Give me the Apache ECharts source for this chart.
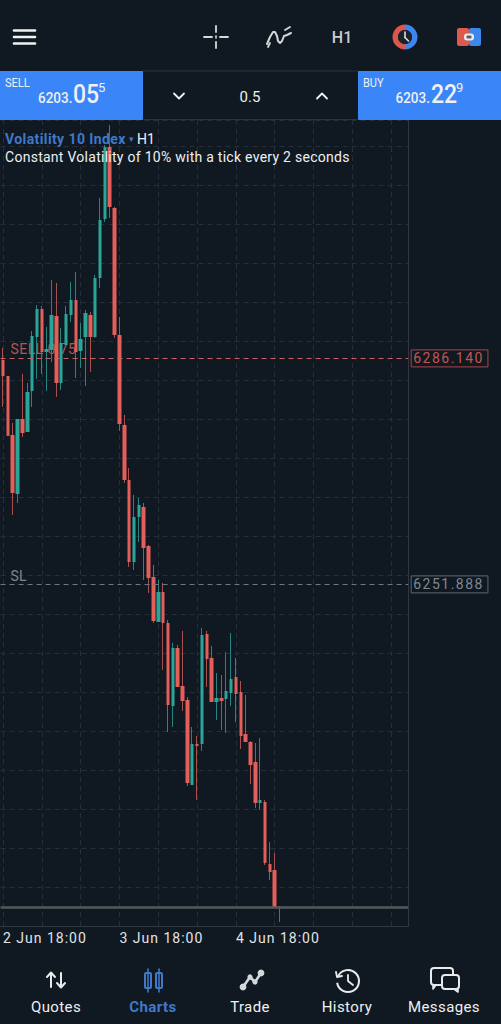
<!DOCTYPE html>
<html><head><meta charset="utf-8">
<style>html,body{margin:0;padding:0;background:#101821;}#c{width:501px;height:1024px;}</style>
<script src="https://cdn.jsdelivr.net/npm/echarts@6/dist/echarts.min.js"></script>
</head><body><div id="c"></div>
<script>
// Values
const dateTicks = ['2 Jun 18:00','3 Jun 18:00','4 Jun 18:00'];
const opens  = [6285.91,6283.48,6274.54,6265.60,6276.96,6275.00,6281.21,6289.39,6293.64,6287.12,6287.42,6292.58,6282.42,6288.18,6292.73,6295.00,6287.27,6289.39,6292.73,6289.39,6298.33,6307.28,6318.19,6308.95,6289.70,6276.06,6267.72,6255.29,6262.11,6263.63,6257.72,6253.02,6246.20,6250.74,6246.05,6233.46,6242.26,6236.50,6234.37,6221.49,6227.70,6227.70,6244.38,6240.74,6234.07,6234.68,6234.53,6235.44,6237.86,6235.59,6229.22,6228.00,6224.97,6218.76,6218.91,6209.52,6208.61,6202.85];
const closes = [6283.48,6274.39,6265.75,6276.96,6274.84,6281.06,6289.55,6293.64,6287.12,6287.57,6292.73,6282.42,6288.48,6292.88,6295.00,6287.12,6289.09,6293.03,6289.39,6298.33,6307.13,6318.19,6309.10,6289.70,6276.21,6267.72,6255.29,6262.11,6263.93,6257.41,6252.87,6246.35,6250.74,6246.05,6233.62,6242.26,6236.35,6234.22,6221.79,6227.70,6227.39,6244.23,6240.59,6234.07,6234.68,6234.22,6235.74,6237.56,6235.28,6228.91,6228.00,6224.52,6218.76,6219.22,6209.67,6208.30,6203.00,6203.05];
const lows   = [6278.78,6274.39,6262.41,6264.23,6274.24,6275.00,6278.78,6283.03,6283.79,6281.21,6285.60,6280.30,6281.36,6288.18,6291.67,6283.18,6284.69,6281.97,6284.09,6289.24,6296.82,6306.82,6307.43,6289.24,6275.15,6267.26,6254.53,6254.08,6258.32,6252.56,6250.59,6246.05,6246.20,6238.92,6229.52,6230.28,6236.35,6232.70,6221.33,6221.49,6219.22,6226.64,6236.35,6234.07,6231.34,6229.82,6229.37,6233.46,6231.03,6226.94,6228.00,6221.64,6218.00,6217.70,6209.36,6207.09,6202.85,6200.73];
const highs  = [6287.73,6283.48,6276.36,6276.96,6283.79,6282.42,6290.30,6294.24,6294.09,6290.91,6298.03,6297.58,6290.76,6294.09,6297.73,6299.24,6291.51,6293.48,6293.18,6298.79,6310.46,6318.49,6321.52,6309.10,6292.42,6277.57,6269.54,6265.45,6264.99,6264.23,6257.87,6254.83,6252.56,6252.11,6246.50,6243.02,6242.71,6244.84,6234.83,6230.28,6228.91,6245.29,6244.84,6242.56,6238.47,6238.16,6241.65,6244.53,6240.74,6237.25,6235.13,6228.15,6227.85,6228.61,6219.22,6212.85,6211.18,6203.15];
const stopLevel = 6286.140;
const slLevel = 6251.888;
const currentLine = 6202.90;

const axisMin = 6200.1145, axisMax = 6322.27, axisStep = 5.9105;
const BG='#101821', BLUE='#3A86F8', LINKBLUE='#3F79C8', RED='#E55F5A', GREEN='#2BA598', WHITE='#EEF0F2';
const SLOTS = 84;
const categories = Array.from({length:SLOTS},(_,i)=> i%24===0 && dateTicks[i/24] ? dateTicks[i/24] : '');
const candles = opens.map((o,i)=>[o,closes[i],lows[i],highs[i]]);

function T(text,x,y,size,color,o){o=o||{};return {type:'text',x:x,y:y,z:o.z||50,scaleX:o.sx||1,
  style:{text:text,fontFamily:'Roboto',fontSize:size,fontWeight:o.w||400,fill:color,textAlign:o.a||'left',textVerticalAlign:'middle',textBaseline:'middle'}};}
function Ln(x1,y1,x2,y2,c,w){return {type:'line',z:50,shape:{x1,y1,x2,y2},style:{stroke:c,lineWidth:w||2,lineCap:'round'}};}
function Poly(pts,c,w){return {type:'polyline',z:50,shape:{points:pts,smooth:0},style:{stroke:c,lineWidth:w||2,fill:null,lineCap:'round',lineJoin:'round'}};}
function Rect(x,y,w,h,f,r,st){return {type:'rect',z:49,shape:{x,y,width:w,height:h,r:r||0},style:st||{fill:f}};}
function Circ(cx,cy,r,st){return {type:'circle',z:50,shape:{cx,cy,r},style:st};}
function Sec(cx,cy,r0,r,a,b,f){return {type:'sector',z:50,shape:{cx,cy,r0,r,startAngle:a,endAngle:b},style:{fill:f}};}

const G=[
  Ln(14,30.5,35,30.5,'#F0F1F2',2.6),Ln(14,37,35,37,'#F0F1F2',2.6),Ln(14,43.5,35,43.5,'#F0F1F2',2.6),
  Ln(204,37,212,37,'#D5D8DB',1.8),Ln(220,37,228,37,'#D5D8DB',1.8),Ln(216,26,216,32,'#D5D8DB',1.8),Ln(216,42,216,48,'#D5D8DB',1.8),Ln(216,36,216,38,'#D5D8DB',1.6),
  Poly([[267,44],[270,37],[273,32],[275,32],[277,36],[278,41],[280,43],[282,41],[284,36],[287,35],[291,33]],'#D5D8DB',2),Ln(268,47,270,43,'#D5D8DB',1.8),Ln(285,30,290,27,'#D5D8DB',1.8),
  T('H1',342,37,16,'#C9CDD1',{a:'center',w:500}),
  Sec(405,37,7,12.5,Math.PI/2,Math.PI*1.5,'#D9574C'),Sec(405,37,7,12.5,-Math.PI/2,Math.PI/2,'#3D86EE'),
  Circ(405,37,7,{fill:'#1A222C'}),Ln(405,32,405,37.5,'#DDE0E3',1.6),Ln(405,37.5,408.5,41,'#DDE0E3',1.6),
  Rect(457,28,12,18,'#DD5A4C',2),Rect(469,28,12,18,'#3D86EE',2),Rect(464,33.5,10,7,'#E8EAEC',3),Rect(466.5,35.5,5,3,'#5A6068',1),
  Rect(0,71,143,49,BLUE),Rect(358,71,143,49,BLUE),
  Ln(143,71,358,71,'#2A323C',1),Ln(143,119.5,358,119.5,'#2A323C',1),
  T('SELL',5,83,13,WHITE,{sx:.85}),
  T('6203.',38,98,15,WHITE,{sx:.9,w:500}),T('05',73,95,25,WHITE,{sx:.92,w:500}),T('5',98,87,13,WHITE),
  T('BUY',363,83,13,WHITE,{sx:.85}),
  T('6203.',395.5,98,15,WHITE,{sx:.9,w:500}),T('22',431,95,25,WHITE,{sx:.92,w:500}),T('9',456,87,13,WHITE),
  Poly([[174,93.5],[179,98.5],[184,93.5]],WHITE,1.8),T('0.5',250,96.5,15,WHITE,{a:'center'}),Poly([[317,98.5],[322,93.5],[327,98.5]],WHITE,1.8),
  T('Volatility 10 Index',5,139,14,LINKBLUE,{w:700}),T('▾',129,139,9,LINKBLUE),T('H1',137,139,14,WHITE),
  T('Constant Volatility of 10% with a tick every 2 seconds',5,156.5,14,WHITE),
  // bottom bar
  Ln(51,973,51,987,'#E8EAEC',2),Poly([[47,977],[51,972.5],[55,977]],'#E8EAEC',2),Ln(61,973,61,987,'#E8EAEC',2),Poly([[57,983],[61,987.5],[65,983]],'#E8EAEC',2),
  Ln(148,969,148,992,LINKBLUE,1.6),Rect(145,973,6,15,null,1,{fill:BG,stroke:LINKBLUE,lineWidth:2}),Ln(159,969,159,992,LINKBLUE,1.6),Rect(156,973,6,15,null,1,{fill:BG,stroke:LINKBLUE,lineWidth:2}),
  Poly([[243,987],[250,977],[255,982],[261,973]],'#D5D8DB',2.6),Circ(243,987,3.4,{fill:'#D5D8DB'}),Circ(250,977,2.6,{fill:'#D5D8DB'}),Circ(255,982,2.6,{fill:'#D5D8DB'}),Circ(261,973,3.4,{fill:'#D5D8DB'}),
  {type:'arc',z:50,shape:{cx:348,cy:981,r:11,startAngle:-Math.PI*0.85,endAngle:Math.PI*0.95},style:{stroke:'#E8EAEC',lineWidth:2,fill:null}},
  Poly([[336,972],[337,977],[342,976]],'#E8EAEC',1.8),Poly([[348,975],[348,981],[353,985]],'#E8EAEC',1.8),
  Rect(431,968,22,17,null,3,{fill:BG,stroke:'#E8EAEC',lineWidth:2}),Poly([[436,985],[433,989],[433,985]],'#E8EAEC',1.6),
  Rect(442,975,17,14,null,3,{fill:BG,stroke:'#E8EAEC',lineWidth:2}),Poly([[454,989],[458,992],[458,988]],'#E8EAEC',1.6),
  T('Quotes',56,1006.5,15,WHITE,{a:'center'}),T('Charts',153,1006.5,15,LINKBLUE,{a:'center',w:700}),T('Trade',250,1006.5,15,WHITE,{a:'center'}),T('History',347,1006.5,15,WHITE,{a:'center'}),T('Messages',444,1006.5,15,WHITE,{a:'center'})
];

const chart=echarts.init(document.getElementById('c'),null,{renderer:'svg',width:501,height:1024});
const NONE='rgba(0,0,0,0)';
chart.setOption({
  animation:false,backgroundColor:BG,graphic:G,
  grid:{left:-0.83,top:120,width:409,height:806,containLabel:false},
  xAxis:{type:'category',data:categories,boundaryGap:true,
    axisLine:{show:true,lineStyle:{color:'#2E3742',width:1}},axisTick:{show:false},
    axisLabel:{interval:i=>i%24===0,align:'left',margin:5,color:'#E2E4E7',fontFamily:'Roboto',fontSize:14,hideOverlap:false,showMinLabel:true},
    splitLine:{show:true,alignWithLabel:true,interval:i=>i%8===0,lineStyle:{color:'#252E39',type:[5,4],width:1}}},
  yAxis:{type:'value',position:'right',min:axisMin,max:axisMax,interval:axisStep,
    axisLine:{show:true,lineStyle:{color:'#2E3742',width:1}},axisTick:{show:false},axisLabel:{show:false},
    splitLine:{show:true,lineStyle:{color:'#252E39',type:[5,4],width:1}}},
  series:[
    {type:'line',data:[],z:1,silent:true,markLine:{z:1,symbol:'none',silent:true,animation:false,
      lineStyle:{color:NONE,width:0},
      data:[
        {yAxis:stopLevel,lineStyle:{color:NONE},label:{show:true,position:'insideStartTop',formatter:'SELL 0.75',color:'#B5564F',fontFamily:'Roboto',fontSize:14,distance:[10,2]}},
        {yAxis:slLevel,lineStyle:{color:NONE},label:{show:true,position:'insideStartTop',formatter:'SL',color:'#7E8892',fontFamily:'Roboto',fontSize:14,distance:[10,1]}}
      ]}},
    {type:'candlestick',z:3,data:candles,barWidth:1,clip:true,
      itemStyle:{color:'#26857E',color0:'#A8514E',borderColor:'#26857E',borderColor0:'#A8514E',borderWidth:1}},
    {type:'candlestick',z:4,data:candles,barWidth:4,clip:true,
      itemStyle:{color:GREEN,color0:RED,borderColor:NONE,borderColor0:NONE,borderWidth:0},
      markLine:{z:5,symbol:'none',silent:true,animation:false,precision:3,
        data:[
          {yAxis:stopLevel,lineStyle:{color:'#C9615C',type:[5,4],width:1},
            label:{show:true,position:'end',distance:3,formatter:()=>stopLevel.toFixed(3),color:'#C0574F',borderColor:'#A8474A',borderWidth:1,fontFamily:'Roboto',fontSize:14,padding:[2,16,1,2]}},
          {yAxis:slLevel,lineStyle:{color:'#6E7882',type:[5,4],width:1},
            label:{show:true,position:'end',distance:3,formatter:()=>slLevel.toFixed(3),color:'#7E8892',borderColor:'#5E6873',borderWidth:1,fontFamily:'Roboto',fontSize:14,padding:[2,16,1,2]}},
          {yAxis:currentLine,lineStyle:{color:'#55585B',type:'solid',width:2.5},label:{show:false}}
        ]}}
  ]
});
function spacing(){
  document.querySelectorAll('#c text').forEach(t=>{
    const s=t.textContent;
    if(/Jun/.test(s)) t.style.letterSpacing='1px';
    else if(/^62\d\d\.\d{3}$/.test(s)) t.style.letterSpacing='1.5px';
    else if(/^Constant/.test(s)) t.style.letterSpacing='0.27px';
    else if(/^Volatility/.test(s)) t.style.letterSpacing='0.4px';
    else if(/^SELL 0/.test(s)) t.style.letterSpacing='0.4px';
    else if(/^(Quotes|Charts|Trade|History|Messages)$/.test(s)) t.style.letterSpacing='0.4px';
  });
}
spacing();chart.on('finished',spacing);
</script></body></html>
